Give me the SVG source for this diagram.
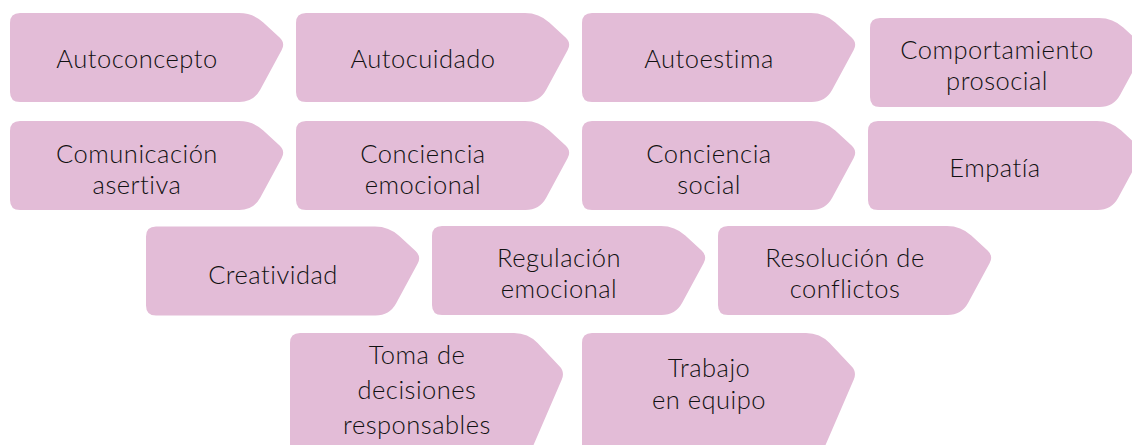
<svg xmlns="http://www.w3.org/2000/svg" xmlns:xlink="http://www.w3.org/1999/xlink" width="1132" height="445" viewBox="0 0 1132 445">
<defs>
<style>
.box{fill:#e3bcd7;}
.lbl{font-family:"Lato","Open Sans",sans-serif;font-weight:300;font-size:25.5px;letter-spacing:0.5px;fill:#111111;text-anchor:middle;}
</style>
<path id="tag" class="box" d="M0,10 Q0,0 10,0 L229,0 Q243,0 253.3,9.5 L269.6,24.6 Q275.5,30 271.7,37 L250.2,76.7 Q243.5,89 229.5,89 L10,89 Q0,89 0,79 Z"/>
<path id="tagTall" class="box" d="M0,10 Q0,0 10,0 L224,0 Q238,0 247.6,10.1 L269.5,33.2 Q275,39 271.8,46.4 L243.5,112.1 Q238,125 224,125 L10,125 Q0,125 0,115 Z"/>
</defs>
<rect width="1132" height="445" fill="#ffffff"/>
<g id="connectors"></g>

<g id="n-autoconcepto" transform="translate(10,13)">
<use xlink:href="#tag"/>
<text class="lbl" x="127" y="55">Autoconcepto</text>
</g>
<g id="n-autocuidado" transform="translate(296,13)">
<use xlink:href="#tag"/>
<text class="lbl" x="127" y="55">Autocuidado</text>
</g>
<g id="n-autoestima" transform="translate(582,13)">
<use xlink:href="#tag"/>
<text class="lbl" x="127" y="55">Autoestima</text>
</g>
<g id="n-comportamiento" transform="translate(870,18)">
<use xlink:href="#tag"/>
<text class="lbl" x="127" y="41">Comportamiento</text>
<text class="lbl" x="127" y="72">prosocial</text>
</g>

<g id="n-comunicacion" transform="translate(10,121)">
<use xlink:href="#tag"/>
<text class="lbl" x="127" y="42">Comunicación</text>
<text class="lbl" x="127" y="73">asertiva</text>
</g>
<g id="n-conciencia-emocional" transform="translate(296,121)">
<use xlink:href="#tag"/>
<text class="lbl" x="127" y="42">Conciencia</text>
<text class="lbl" x="127" y="73">emocional</text>
</g>
<g id="n-conciencia-social" transform="translate(582,121)">
<use xlink:href="#tag"/>
<text class="lbl" x="127" y="42">Conciencia</text>
<text class="lbl" x="127" y="73">social</text>
</g>
<g id="n-empatia" transform="translate(868,121)">
<use xlink:href="#tag"/>
<text class="lbl" x="127" y="56">Empatía</text>
</g>

<g id="n-creatividad" transform="translate(146,226.5)">
<use xlink:href="#tag"/>
<text class="lbl" x="127" y="57">Creatividad</text>
</g>
<g id="n-regulacion" transform="translate(432,226)">
<use xlink:href="#tag"/>
<text class="lbl" x="127" y="41">Regulación</text>
<text class="lbl" x="127" y="72">emocional</text>
</g>
<g id="n-resolucion" transform="translate(718,226)">
<use xlink:href="#tag"/>
<text class="lbl" x="127" y="41">Resolución de</text>
<text class="lbl" x="127" y="72">conflictos</text>
</g>

<g id="n-toma" transform="translate(290,333)">
<use xlink:href="#tagTall"/>
<text class="lbl" x="127" y="31">Toma de</text>
<text class="lbl" x="127" y="66">decisiones</text>
<text class="lbl" x="127" y="101">responsables</text>
</g>
<g id="n-trabajo" transform="translate(582,333)">
<use xlink:href="#tagTall"/>
<text class="lbl" x="127" y="44">Trabajo</text>
<text class="lbl" x="127" y="76">en equipo</text>
</g>
</svg>
